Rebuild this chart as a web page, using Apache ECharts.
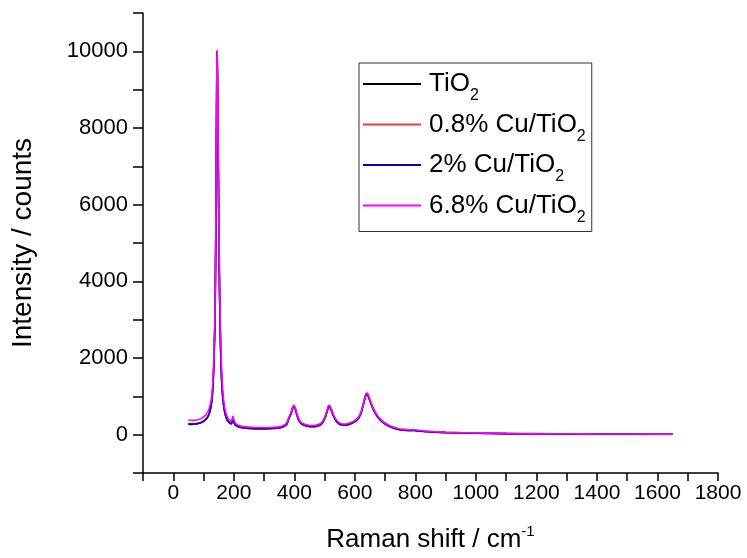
<!DOCTYPE html>
<html>
<head>
<meta charset="utf-8">
<script src="https://cdn.jsdelivr.net/npm/echarts@6/dist/echarts.min.js"></script>
<style>html,body{margin:0;padding:0;background:#fff}#c{width:747px;height:558px}</style>
</head>
<body>
<div id="c"></div>
<script>
const shifts = [50,60,70,80,90,100,110,115,120,125,128,131,134,137,139,141,143,144,145,147,149,151,153,156,159,162,166,170,175,180,185,190,194,197,200,204,210,220,235,250,270,300,330,350,365,375,383,390,395,399,403,408,415,425,440,455,470,485,495,503,509,513,516,520,525,532,542,555,570,585,600,612,622,630,635,639,643,648,655,665,680,700,720,740,760,780,795,810,830,860,900,950,1000,1100,1200,1300,1400,1500,1600,1650];

const tio2 = [275,268,270,285,305,345,415,475,575,750,940,1240,1790,2690,3790,5590,8190,9490,9990,8590,6790,4990,3690,2390,1590,1140,790,590,440,360,310,280,310,380,330,262,222,192,172,162,152,152,162,172,212,270,440,560,700,735,670,530,370,270,228,208,212,250,330,470,620,720,735,680,580,440,322,252,250,280,336,426,598,846,1000,1065,1035,925,775,595,415,275,195,145,117,107,112,97,82,67,52,42,35,25,19,15,12,10,9,9];
const cu08 = [280,272,275,290,310,350,420,480,580,758,948,1248,1798,2698,3798,5598,8198,9498,9998,8598,6798,4998,3698,2398,1598,1148,798,598,448,368,318,288,316,384,334,265,225,195,175,164,155,154,164,174,214,272,445,565,705,738,672,532,372,270,225,200,205,255,335,475,622,722,738,684,583,443,322,248,248,278,338,428,600,848,1000,1068,1038,928,778,598,418,278,198,148,118,108,113,98,83,68,53,43,36,26,20,16,13,11,10,10];
const cu2 = [282,274,277,292,312,352,422,482,582,760,950,1250,1800,2700,3800,5600,8200,9500,10000,8600,6800,5000,3700,2400,1600,1150,800,600,450,370,320,290,320,390,340,270,230,200,180,170,160,160,170,180,220,280,450,570,710,740,680,540,380,280,235,215,220,260,340,480,630,730,740,690,590,450,330,260,255,285,345,435,605,850,1000,1070,1040,930,780,600,420,280,200,150,120,110,115,100,85,70,55,45,38,28,22,18,15,13,12,12];
const cu68 = [390,372,372,387,412,462,542,612,722,900,1100,1400,2000,2950,4100,5900,8400,9600,10020,8900,7200,5500,4100,2800,1900,1350,950,700,540,440,380,350,400,480,410,320,270,235,210,198,188,186,195,205,245,305,475,595,735,765,705,565,405,305,260,240,245,285,365,505,655,755,765,715,615,475,355,285,280,310,370,460,630,875,1025,1095,1065,955,805,625,445,305,222,170,138,126,130,114,98,82,66,54,46,35,28,23,19,17,15,15];

const seriesNames = ['TiO2','0.8% Cu/TiO2','2% Cu/TiO2','6.8% Cu/TiO2'];
const seriesColors = ['#000000','#FF3333','#0000CC','#FF00FF'];
const seriesValues = [tio2, cu08, cu2, cu68];

const xTickLabels = [0,200,400,600,800,1000,1200,1400,1600,1800];
const yTickLabels = [0,2000,4000,6000,8000,10000];

const FONT = 'Liberation Sans, Arial, sans-serif';

const chart = echarts.init(document.getElementById('c'), null, {renderer:'canvas'});
chart.setOption({
  animation: false,
  backgroundColor: '#fff',
  grid: {left: 143, right: 29, top: 13, bottom: 83, containLabel: false},
  xAxis: {
    type: 'value', min: -100, max: 1800, interval: 100,
    name: '{n|Raman shift / cm}{s|-1}',
    nameLocation: 'middle', nameGap: 51,
    nameTextStyle: {
      fontFamily: FONT, color: '#000',
      rich: {
        n: {fontFamily: FONT, fontSize: 26, lineHeight: 32, color: '#000'},
        s: {fontFamily: FONT, fontSize: 15, lineHeight: 14, verticalAlign: 'top', color: '#000'}
      }
    },
    axisLine: {onZero: false, lineStyle: {color: '#000', width: 1.5}},
    axisTick: {show: true, length: 8, lineStyle: {color: '#000', width: 1.5}},
    axisLabel: {
      margin: 10, color: '#000', fontFamily: FONT, fontSize: 21,
      formatter: v => xTickLabels.indexOf(v) >= 0 ? String(v) : ''
    },
    splitLine: {show: false}
  },
  yAxis: {
    type: 'value', min: -1000, max: 11000, interval: 1000,
    name: 'Intensity / counts',
    nameLocation: 'middle', nameGap: 106,
    nameTextStyle: {fontFamily: FONT, fontSize: 28, color: '#000'},
    axisLine: {onZero: false, lineStyle: {color: '#000', width: 1.5}},
    axisTick: {show: true, length: 10, lineStyle: {color: '#000', width: 1.5}},
    axisLabel: {
      margin: 15, color: '#000', fontFamily: FONT, fontSize: 22,
      formatter: v => yTickLabels.indexOf(v) >= 0 ? String(v) : ''
    },
    splitLine: {show: false}
  },
  legend: {
    orient: 'vertical', left: 359, top: 63,
    padding: [8, 6, 6, 4],
    borderColor: '#333', borderWidth: 1,
    itemWidth: 58, itemHeight: 2, itemGap: 7.5,
    icon: 'rect',
    data: seriesNames,
    formatter: name => '{n|' + name.slice(0, -1) + '}{s|2}',
    textStyle: {
      fontFamily: FONT, color: '#000', padding: [0,0,0,3],
      rich: {
        n: {fontFamily: FONT, fontSize: 26, lineHeight: 40, color: '#000'},
        s: {fontFamily: FONT, fontSize: 16, lineHeight: 12, verticalAlign: 'bottom', color: '#000'}
      }
    }
  },
  series: seriesNames.map((name, i) => ({
    name: name,
    type: 'line',
    showSymbol: false,
    symbol: 'none',
    smooth: 0.2,
    color: seriesColors[i],
    lineStyle: {color: seriesColors[i], width: 1.6},
    data: shifts.map((x, j) => [x, seriesValues[i][j]])
  }))
});
</script>
</body>
</html>
